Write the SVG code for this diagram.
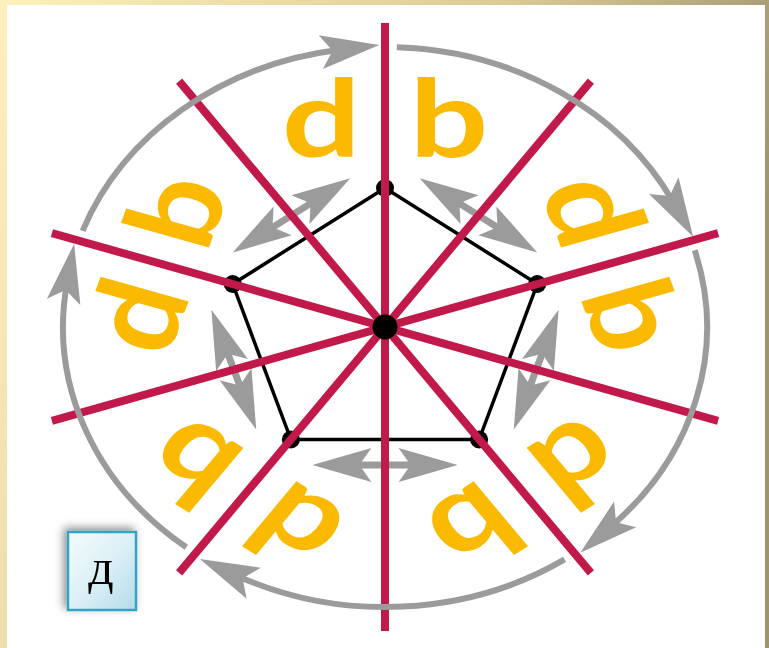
<svg xmlns="http://www.w3.org/2000/svg" width="769" height="648" viewBox="0 0 769 648">
<defs>
<linearGradient id="frame" x1="0" y1="0" x2="1" y2="0.3">
<stop offset="0" stop-color="#fdf0bb"/>
<stop offset="0.6" stop-color="#dccb94"/>
<stop offset="1" stop-color="#9f9370"/>
</linearGradient>
<linearGradient id="box" x1="0" y1="0" x2="1" y2="1">
<stop offset="0" stop-color="#f3fbfd"/>
<stop offset="0.5" stop-color="#dcf0f6"/>
<stop offset="1" stop-color="#b3dcea"/>
</linearGradient>
<filter id="sh" x="-30%" y="-30%" width="160%" height="160%">
<feDropShadow dx="-3" dy="-3" stdDeviation="4" flood-color="#000" flood-opacity="0.45"/>
</filter>
<marker id="ah" markerUnits="userSpaceOnUse" refX="0" refY="0" markerWidth="62" markerHeight="34" orient="auto-start-reverse" overflow="visible">
<path d="M40,0 L-19,-17 L-7,0 L-19,17 Z" fill="#9b9b9b"/>
</marker>
<style>
.red{stroke:#c1194a;stroke-width:8;fill:none}
.dbl{stroke:#9b9b9b;stroke-width:7;fill:none;marker-start:url(#ah);marker-end:url(#ah)}
.arc{stroke:#9b9b9b;stroke-width:6;fill:none;marker-end:url(#ah)}
.pent{stroke:#000;stroke-width:3.5;fill:none;stroke-linejoin:round}
.let{font-family:Lato,"DejaVu Sans",sans-serif;font-weight:700;font-size:108px;fill:#fbb900}
</style>
</defs>
<rect width="769" height="648" fill="url(#frame)"/>
<rect x="7" y="5" width="758" height="643" fill="#fff"/>

<g id="connectors">
<g id="double-arrows">
<path class="dbl" d="M352.4,465 L417.6,465"/>
<path class="dbl" d="M544.6,347.2 L527.8,392.1"/>
<path class="dbl" d="M453.5,199.6 L503.4,231.1"/>
<path class="dbl" d="M316.5,199.6 L266.6,231.1"/>
<path class="dbl" d="M225.4,347.2 L242.2,392.1"/>
</g>
</g>

<g id="pentagon">
<polygon class="pent" points="385,188 537.3,284 479.1,439.5 290.9,439.5 232.7,284"/>
<circle cx="385" cy="188" r="9"/>
<circle cx="537.3" cy="284" r="9"/>
<circle cx="479.1" cy="439.5" r="9"/>
<circle cx="290.9" cy="439.5" r="9"/>
<circle cx="232.7" cy="284" r="9"/>
</g>

<g id="mirror-lines">
<line class="red" x1="385" y1="23" x2="385" y2="631"/>
<line class="red" x1="590.9" y1="81.1" x2="179.1" y2="572.9"/>
<line class="red" x1="718.1" y1="233.1" x2="51.9" y2="420.9"/>
<line class="red" x1="718.1" y1="420.9" x2="51.9" y2="233.1"/>
<line class="red" x1="590.9" y1="572.9" x2="179.1" y2="81.1"/>
</g>
<g id="center">
<circle cx="385" cy="327" r="12.5"/>
</g>

<g id="rotation-arrows">
<path class="arc" d="M82.6,230.8 A322,280 0 0 1 339.6,49.8"/>
<path class="arc" d="M396.8,47.2 A322,280 0 0 1 673.2,202.1"/>
<path class="arc" d="M694.7,250.3 A322,280 0 0 1 610.7,526.7"/>
<path class="arc" d="M564.6,559.4 A322,280 0 0 1 236.3,575.4"/>
<path class="arc" d="M186.3,547.3 A322,280 0 0 1 67,283.2"/>
</g>

<g id="letters" transform="translate(385,327) scale(1.152,1)">
<g id="pair-0"><g transform="translate(-21,-170) scale(1.12,1)"><text class="let" text-anchor="end">d</text></g><g transform="translate(21,-170) scale(1.12,1)"><text class="let">b</text></g></g>
<g id="pair-1" transform="rotate(72)"><g transform="translate(-21,-170) scale(1.12,1)"><text class="let" text-anchor="end">d</text></g><g transform="translate(21,-170) scale(1.12,1)"><text class="let">b</text></g></g>
<g id="pair-2" transform="rotate(144)"><g transform="translate(-21,-170) scale(1.12,1)"><text class="let" text-anchor="end">d</text></g><g transform="translate(21,-170) scale(1.12,1)"><text class="let">b</text></g></g>
<g id="pair-3" transform="rotate(216)"><g transform="translate(-21,-170) scale(1.12,1)"><text class="let" text-anchor="end">d</text></g><g transform="translate(21,-170) scale(1.12,1)"><text class="let">b</text></g></g>
<g id="pair-4" transform="rotate(288)"><g transform="translate(-21,-170) scale(1.12,1)"><text class="let" text-anchor="end">d</text></g><g transform="translate(21,-170) scale(1.12,1)"><text class="let">b</text></g></g>
</g>

<g id="label-box">
<rect x="68" y="532" width="68" height="78" fill="url(#box)" stroke="#35a4c4" stroke-width="2.5" filter="url(#sh)"/>
<text x="101" y="584" text-anchor="middle" font-family="'Liberation Serif',serif" font-size="50" fill="#000">д</text>
</g>
</svg>
